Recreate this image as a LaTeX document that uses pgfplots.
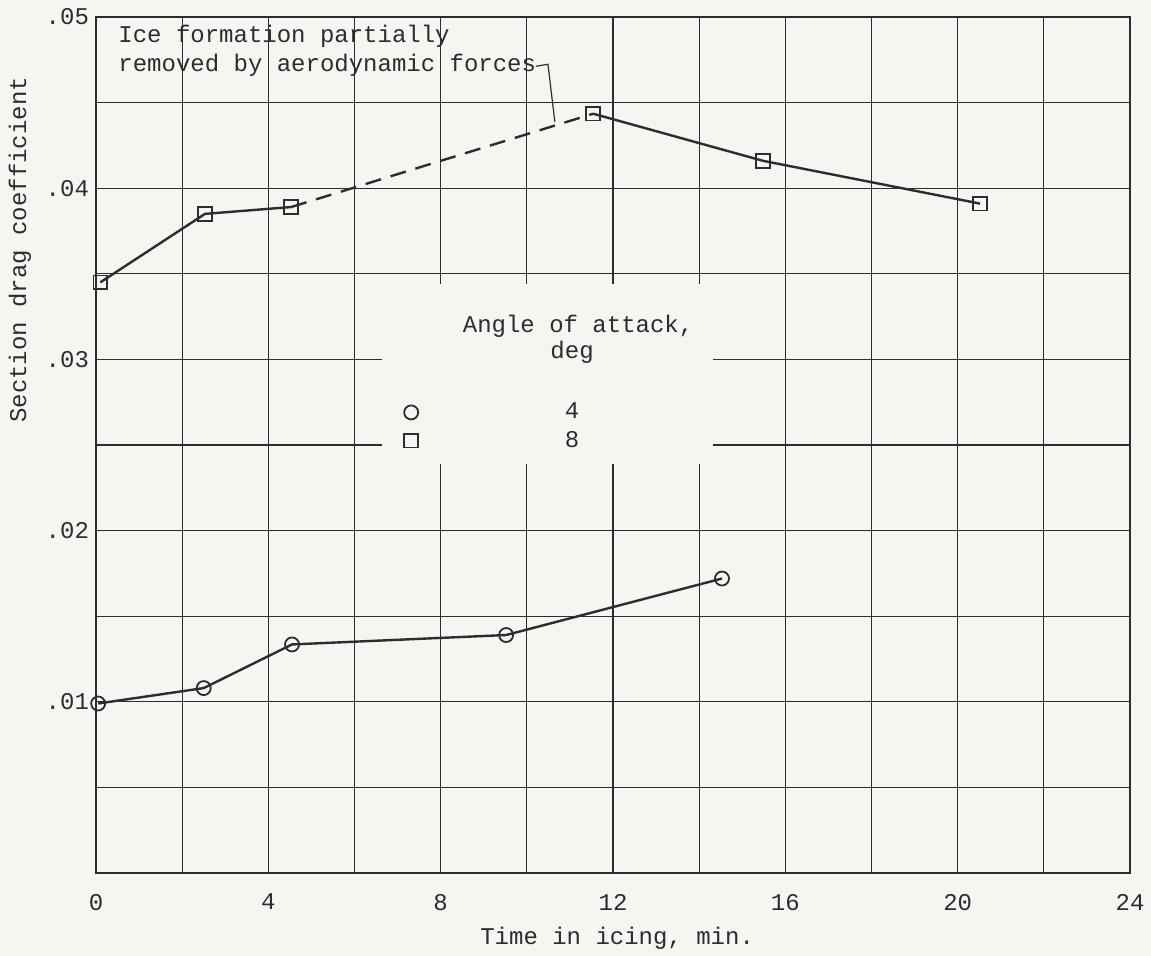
\documentclass[border=0pt]{standalone}
\usepackage{pgfplots}
\pgfplotsset{compat=1.18}
\usepackage{fontspec}
\setmainfont{Liberation Mono}
\definecolor{paper}{RGB}{245,245,242}
\definecolor{ink}{RGB}{45,45,45}

\begin{document}
\begin{tikzpicture}[color=ink]
\useasboundingbox (-48pt,-41.5pt) rectangle (527.5pt,436.5pt);
\fill[paper] (-48pt,-41.5pt) rectangle (527.5pt,436.5pt);
\begin{axis}[
    scale only axis,
    width=517pt, height=428pt,
    xmin=0, xmax=24, ymin=0, ymax=0.05,
    clip=false,
    font=\fontsize{12}{14}\selectfont,
    xtick={0,4,8,12,16,20,24},
    xticklabels={0,4,8,12,16,20,24},
    minor xtick={2,6,10,14,18,22},
    ytick={0.01,0.02,0.03,0.04,0.05},
    yticklabels={.01,.02,.03,.04,.05},
    minor ytick={0.005,0.015,0.025,0.035,0.045},
    scaled y ticks=false,
    grid=both,
    major grid style={ink, line width=0.65pt},
    minor grid style={ink, line width=0.65pt},
    major tick length=0pt, minor tick length=0pt,
    axis line style={ink, line width=1.2pt},
    xticklabel style={yshift=-7pt},
    xlabel={Time in icing, min.},
    ylabel={Section drag coefficient},
    every axis x label/.style={at={(axis description cs:0.504,-0.076)}, anchor=center},
    every axis y label/.style={at={(axis description cs:-0.0735,0.728)}, anchor=center, rotate=90},
    legend image code/.code={\draw[#1] plot coordinates {(0pt,0pt)};},
    legend style={draw=none, fill=none, inner sep=0pt,
        at={(axis cs:7.144,0.027476)}, anchor=north west,
        row sep=4.7pt, nodes={inner sep=0pt},
        /tikz/every odd column/.append style={column sep=73.3pt}},
]

% legend area is left blank in the grid
\fill[paper] (axis cs:6.64,0.0239) rectangle (axis cs:14.32,0.0344);

% 4 deg
\addplot[ink, line width=1.2pt, mark=o, mark size=3.5pt,
    mark options={fill=paper, line width=0.9pt}, forget plot] coordinates {
    (0.05,0.0099) (2.5,0.0108) (4.55,0.01335) (9.52,0.0139) (14.53,0.0172)
};

% 8 deg, dashed part where ice was partially removed
\addplot[ink, line width=1.2pt, dash pattern=on 8pt off 5pt, no marks, forget plot] coordinates {
    (4.53,0.0389) (11.54,0.04435)
};
\addplot[ink, line width=1.2pt, mark=square, mark size=3.4pt,
    mark options={fill=paper, line width=0.9pt}, forget plot] coordinates {
    (0.1,0.0345) (2.53,0.0385) (4.53,0.0389)
};
\addplot[ink, line width=1.2pt, mark=square, mark size=3.4pt,
    mark options={fill=paper, line width=0.9pt}, forget plot] coordinates {
    (11.54,0.04435) (15.48,0.0416) (20.52,0.0391)
};

\addlegendimage{ink, mark=o, mark size=3.5pt, mark options={fill=paper, line width=0.9pt}}
\addlegendentry{4}
\addlegendimage{ink, mark=square, mark size=3.4pt, mark options={fill=paper, line width=0.9pt}}
\addlegendentry{8}

\node[anchor=base, inner sep=0pt] at (axis cs:11.19,0.03159) {Angle of attack,};
\node[anchor=base, inner sep=0pt] at (axis cs:11.05,0.03006) {deg};

\node[anchor=base west, inner sep=0pt] at (axis cs:0.511,0.04853) {Ice formation partially};
\node[anchor=base west, inner sep=0pt] at (axis cs:0.511,0.04682) {removed by aerodynamic forces};
\draw[ink, line width=0.6pt] (axis cs:10.21,0.04712) -- (axis cs:10.49,0.04724) -- (axis cs:10.65,0.04388);
\end{axis}
\end{tikzpicture}
\end{document}
